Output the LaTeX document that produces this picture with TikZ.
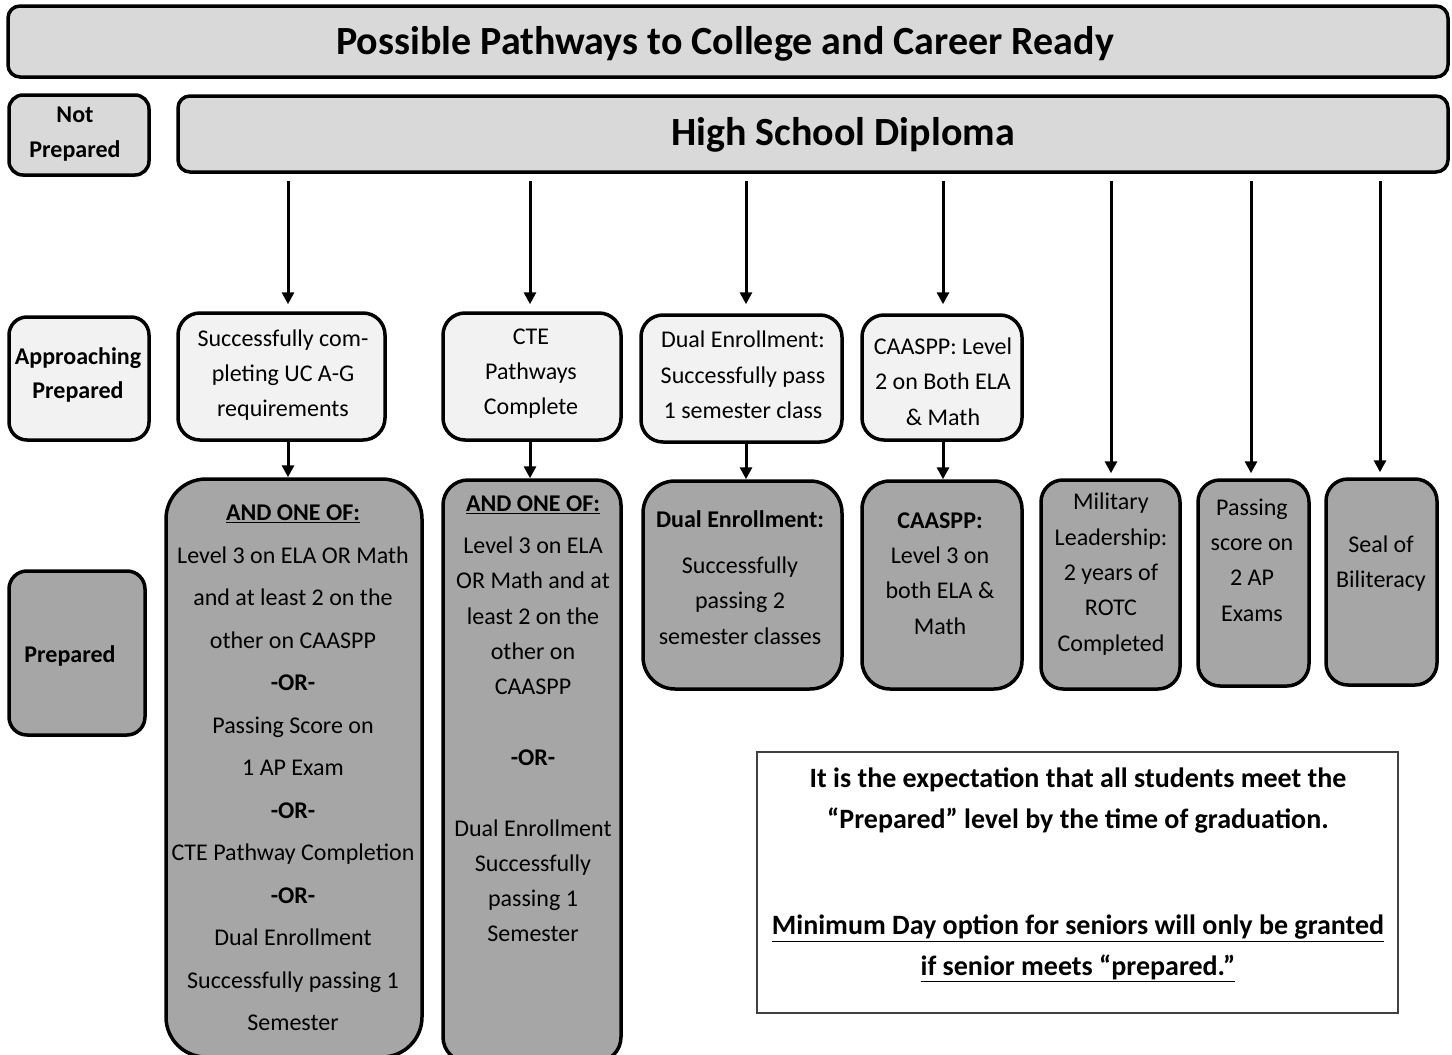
\documentclass[tikz,border=0pt]{standalone}
\usepackage{fontspec}
\setmainfont{Carlito}
\usetikzlibrary{arrows.meta}
\definecolor{hdrgray}{HTML}{D9D9D9}
\definecolor{apprgray}{HTML}{F2F2F2}
\definecolor{prepgray}{HTML}{A6A6A6}
\tikzset{
  hdrbox/.style={draw, line width=3.5pt, fill=hdrgray, inner sep=0pt, rounded corners=12pt},
  apprbox/.style={draw, line width=3.5pt, fill=apprgray, inner sep=0pt, rounded corners=22pt},
  prepbox/.style={draw, line width=3.5pt, fill=prepgray, inner sep=0pt, rounded corners=28pt},
  notebox/.style={draw=black!75, line width=1.5pt, fill=white, inner sep=0pt},
  bigtxt/.style={inner sep=0pt, font=\fontsize{40}{46}\selectfont\bfseries},
  lbltxt/.style={inner sep=0pt, align=center, font=\fontsize{24}{34.5}\selectfont\bfseries},
  boxtxt/.style={inner sep=0pt, align=center, font=\fontsize{24}{35.3}\selectfont},
  notetxt/.style={inner sep=0pt, align=center, font=\fontsize{28}{41}\selectfont\bfseries},
  flow/.style={line width=3pt, -{Triangle[length=12pt,width=12pt]}}
}
\begin{document}
\begin{tikzpicture}[x=1pt, y=-1pt]
\useasboundingbox (0,0) rectangle (1452,1055);
% header rows
\node[hdrbox, minimum width=1440pt, minimum height=71pt] (title) at (728,41.5) {};
\node[hdrbox, rounded corners=14pt, minimum width=140pt, minimum height=80pt] (notprep) at (79,135) {};
\node[hdrbox, minimum width=1270pt, minimum height=76pt] (dip) at (813,134) {};
\node[bigtxt] (titletxt) at (725,44) {Possible Pathways to College and Career Ready};
\node[lbltxt] (notpreptxt) at (75,134) {Not\\Prepared};
\node[bigtxt] (diptxt) at (843,135) {High School Diploma};
% level labels
\node[apprbox, rounded corners=18pt, minimum width=140pt, minimum height=123pt] (approach) at (79,378.5) {};
\node[prepbox, rounded corners=18pt, minimum width=136pt, minimum height=164pt] (prep) at (77,653) {};
\node[lbltxt] (approachtxt) at (78,375) {Approaching\\Prepared};
\node[lbltxt] (preptxt) at (70,656) {Prepared};
% approaching prepared boxes
\node[apprbox, minimum width=207pt, minimum height=127pt] (a1) at (281.5,376.5) {};
\node[apprbox, minimum width=178pt, minimum height=127pt] (a2) at (532,376.5) {};
\node[apprbox, minimum width=201pt, minimum height=127pt] (a3) at (741.5,378.5) {};
\node[apprbox, minimum width=160pt, minimum height=125pt] (a4) at (942,377.5) {};
\node[boxtxt] (a1txt) at (283,375) {Successfully com-\\pleting UC A-G\\requirements};
\node[boxtxt] (a2txt) at (531,373.5) {CTE\\Pathways\\Complete};
\node[boxtxt] (a3txt) at (743,375) {Dual Enrollment:\\Successfully pass\\1 semester class};
\node[boxtxt] (a4txt) at (943,381.5) {CAASPP: Level\\2 on Both ELA\\\& Math};
% prepared boxes
\node[prepbox, rounded corners=40pt, minimum width=256pt, minimum height=578pt] (p1) at (294,768) {};
\node[prepbox, rounded corners=25pt, minimum width=178pt, minimum height=582pt] (p2) at (532,771) {};
\node[prepbox, rounded corners=32pt, minimum width=199pt, minimum height=208pt] (p3) at (742.5,585) {};
\node[prepbox, minimum width=160pt, minimum height=208pt] (p4) at (942,585) {};
\node[prepbox, rounded corners=22pt, minimum width=139pt, minimum height=209pt] (p5) at (1110.5,584.5) {};
\node[prepbox, rounded corners=22pt, minimum width=111pt, minimum height=206pt] (p6) at (1253.5,583) {};
\node[prepbox, rounded corners=22pt, minimum width=111pt, minimum height=206pt] (p7) at (1381.5,582) {};
\node[boxtxt, font=\fontsize{24}{42.5}\selectfont] (p1txt) at (293,768) {\underline{\textbf{AND ONE OF:}}\\Level 3 on ELA OR Math\\and at least 2 on the\\other on CAASPP\\\textbf{-OR-}\\Passing Score on\\1 AP Exam\\\textbf{-OR-}\\CTE Pathway Completion\\\textbf{-OR-}\\Dual Enrollment\\Successfully passing 1\\Semester};
\node[boxtxt] (p2txt) at (533,719) {\underline{\textbf{AND ONE OF:}}\\[6.7pt]Level 3 on ELA\\OR Math and at\\least 2 on the\\other on\\CAASPP\\[35.3pt]\textbf{-OR-}\\[35.3pt]Dual Enrollment\\Successfully\\passing 1\\Semester};
\node[boxtxt] (p3txt) at (740,577.5) {\textbf{Dual Enrollment:}\\[10.5pt]Successfully\\passing 2\\semester classes};
\node[boxtxt] (p4txt) at (940,573.5) {\textbf{CAASPP:}\\Level 3 on\\both ELA \&\\Math};
\node[boxtxt] (p5txt) at (1111,574) {Military\\Leadership:\\2 years of\\ROTC\\Completed};
\node[boxtxt] (p6txt) at (1252,560) {Passing\\score on\\2 AP\\Exams};
\node[boxtxt] (p7txt) at (1381,563.5) {Seal of\\Biliteracy};
% note
\node[notebox, minimum width=641pt, minimum height=261pt] (note) at (1077.5,882.5) {};
\node[notetxt] (notetxt) at (1078,875) {It is the expectation that all students meet the\\“Prepared” level by the time of graduation.\\[65pt]\underline{Minimum Day option for seniors will only be granted}\\\underline{if senior meets “prepared.”}};
% arrows
\coordinate (c1) at (288,181);
\coordinate (c2) at (530,181);
\coordinate (c3) at (746,181);
\coordinate (c4) at (943,181);
\coordinate (c5) at (1111,181);
\coordinate (c6) at (1251,181);
\coordinate (c7) at (1380,181);
\draw[flow, shorten >=7pt] (c1) -- (c1 |- a1.north);
\draw[flow, shorten >=7pt] (c2) -- (c2 |- a2.north);
\draw[flow, shorten >=9pt] (c3) -- (c3 |- a3.north);
\draw[flow, shorten >=9pt] (c4) -- (c4 |- a4.north);
\draw[flow, shorten >=5pt] (c5) -- (c5 |- p5.north);
\draw[flow, shorten >=5pt] (c6) -- (c6 |- p6.north);
\draw[flow, shorten >=5pt] (c7) -- (c7 |- p7.north);
\draw[flow] (c1 |- a1.south) -- (c1 |- p1.north);
\draw[flow] (c2 |- a2.south) -- (c2 |- p2.north);
\draw[flow] (c3 |- a3.south) -- (c3 |- p3.north);
\draw[flow] (c4 |- a4.south) -- (c4 |- p4.north);
\end{tikzpicture}
\end{document}
